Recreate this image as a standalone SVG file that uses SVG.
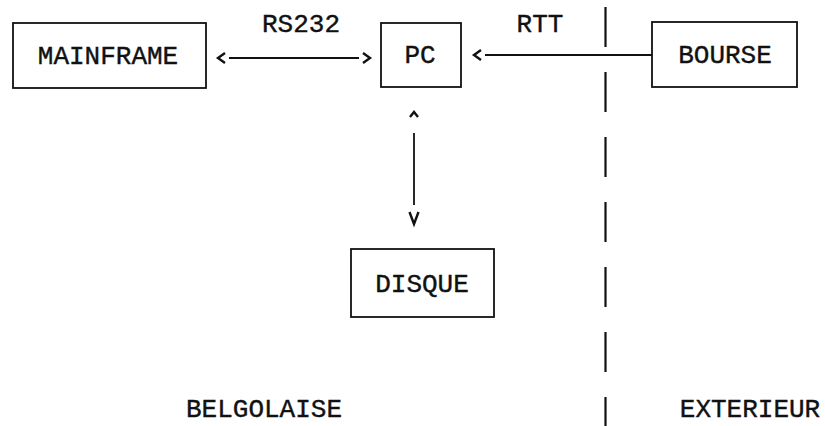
<svg xmlns="http://www.w3.org/2000/svg" width="825" height="426" viewBox="0 0 825 426">
<style>
.box{fill:#fff;stroke:#111;stroke-width:1.8}
.lbl{font-family:"Liberation Mono","Courier New",monospace;font-size:26px;fill:#111;stroke:#111;stroke-width:0.4;text-anchor:middle}
.wire{fill:none;stroke:#111;stroke-width:1.8}
.sep{fill:none;stroke:#111;stroke-width:2.2;stroke-dasharray:40 25}
.head{fill:none;stroke:#111;stroke-width:2.4;stroke-linejoin:miter}
</style>
<defs>
<marker id="chev" markerUnits="userSpaceOnUse" markerWidth="20" markerHeight="20" viewBox="0 -10 20 20" refX="0" refY="0" orient="auto-start-reverse" overflow="visible">
<path class="head" d="M4,-5 L11,0 L4,5"/>
</marker>
<marker id="caret" markerUnits="userSpaceOnUse" markerWidth="30" markerHeight="20" viewBox="0 -10 30 20" refX="0" refY="0" orient="auto-start-reverse" overflow="visible">
<path class="head" d="M16,-4 L21,0 L16,4"/>
</marker>
<marker id="vee" markerUnits="userSpaceOnUse" markerWidth="30" markerHeight="20" viewBox="0 -10 30 20" refX="0" refY="0" orient="auto" overflow="visible">
<path class="head" d="M7,-4.5 L19,0 L7,4.5"/>
</marker>
</defs>
<g id="separator">
<line class="sep" x1="605.5" y1="7" x2="605.5" y2="426"/>
</g>
<g id="connectors">
<line class="wire" x1="229" y1="58" x2="359" y2="58" marker-start="url(#chev)" marker-end="url(#chev)"/>
<text class="lbl" x="301" y="32">RS232</text>
<line class="wire" x1="652" y1="55" x2="485" y2="55" marker-end="url(#chev)"/>
<text class="lbl" x="540" y="32">RTT</text>
<line class="wire" x1="414" y1="133" x2="414" y2="205" marker-start="url(#caret)" marker-end="url(#vee)"/>
</g>
<g id="mainframe">
<rect class="box" x="13" y="23" width="193" height="65"/>
<text class="lbl" x="108" y="64">MAINFRAME</text>
</g>
<g id="pc">
<rect class="box" x="381" y="23" width="80" height="64"/>
<text class="lbl" x="420" y="63">PC</text>
</g>
<g id="bourse">
<rect class="box" x="652" y="22" width="145" height="65"/>
<text class="lbl" x="725" y="63">BOURSE</text>
</g>
<g id="disque">
<rect class="box" x="351" y="249" width="143" height="68"/>
<text class="lbl" x="422" y="292">DISQUE</text>
</g>
<g id="zones">
<text class="lbl" x="264" y="417">BELGOLAISE</text>
<text class="lbl" x="750" y="417">EXTERIEUR</text>
</g>
</svg>
